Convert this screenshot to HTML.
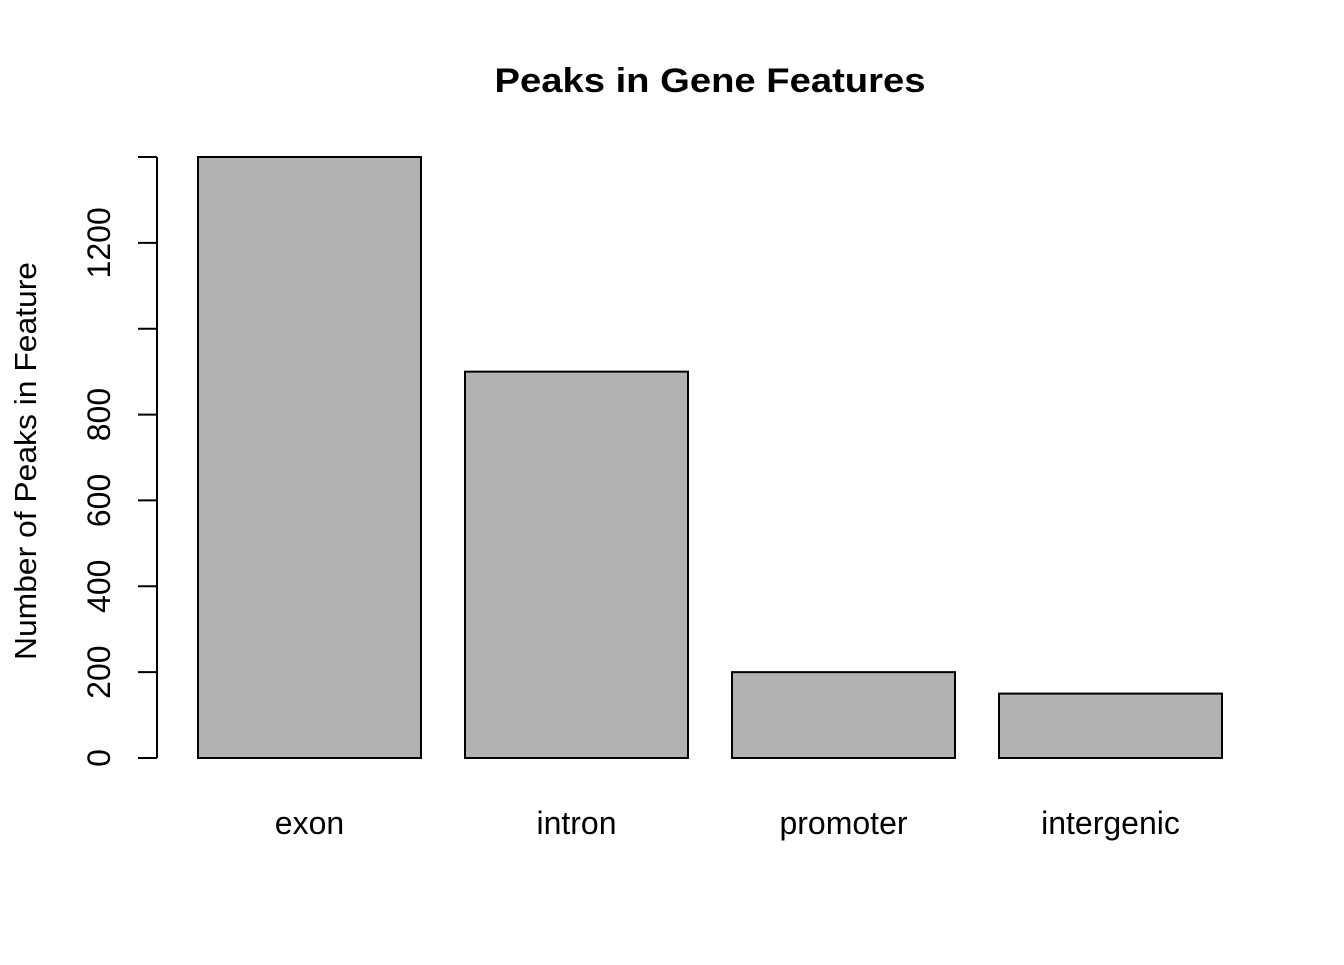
<!DOCTYPE html>
<html><head><meta charset="utf-8"><style>
html,body{margin:0;padding:0;background:#fff}
svg text{font-family:"Liberation Sans",Arial,sans-serif;fill:#000}
</style></head><body>
<svg width="1344" height="960" viewBox="0 0 1344 960">
<rect width="1344" height="960" fill="#fff"/>
<text x="710" y="92" text-anchor="middle" font-size="34" font-weight="bold" textLength="431" lengthAdjust="spacingAndGlyphs">Peaks in Gene Features</text>
<text transform="translate(36,461) rotate(-90)" text-anchor="middle" font-size="31" textLength="398" lengthAdjust="spacingAndGlyphs">Number of Peaks in Feature</text>
<g id="yaxis"></g>
<g id="bars"></g>
</svg>
<script>
const categories=["exon","intron","promoter","intergenic"];
const values=[1400,900,200,150];
const tickValues=[0,200,400,600,800,1000,1200,1400];
const tickLabels=["0","200","400","600","800","","1200",""];
const NS="http://www.w3.org/2000/svg";
const y0=758,yTop=157,vMax=1400;
function y(v){return y0-(v/vMax)*(y0-yTop);}
function x(i){return 198+i*267;}
const bw=223;
const ya=document.getElementById("yaxis"),bg=document.getElementById("bars");
function mk(tag,attrs,parent){const e=document.createElementNS(NS,tag);for(const k in attrs)e.setAttribute(k,attrs[k]);parent.appendChild(e);return e;}
const axl=mk("line",{x1:157,x2:157,y1:y(tickValues[tickValues.length-1]),y2:y(tickValues[0]),stroke:"#000","stroke-width":2},ya);


tickValues.forEach((v,i)=>{
 const t=mk("line",{x1:138,x2:157,y1:y(v),y2:y(v),stroke:"#000","stroke-width":2},ya);
 
 
 if(tickLabels[i]){
  const tx=mk("text",{transform:`translate(110,${y(v)}) rotate(-90)`,"text-anchor":"middle","font-size":32},ya);
  tx.textContent=tickLabels[i];
  
  
 }
});
categories.forEach((c,i)=>{
 const r=mk("rect",{x:x(i),y:y(values[i]),width:bw,height:y0-y(values[i]),fill:"#b2b2b2",stroke:"#000","stroke-width":2},bg);
 
 
 const t=mk("text",{x:x(i)+bw/2,y:834,"text-anchor":"middle","font-size":32},bg);
 t.textContent=c;
 
 
});
</script>
</body></html>
